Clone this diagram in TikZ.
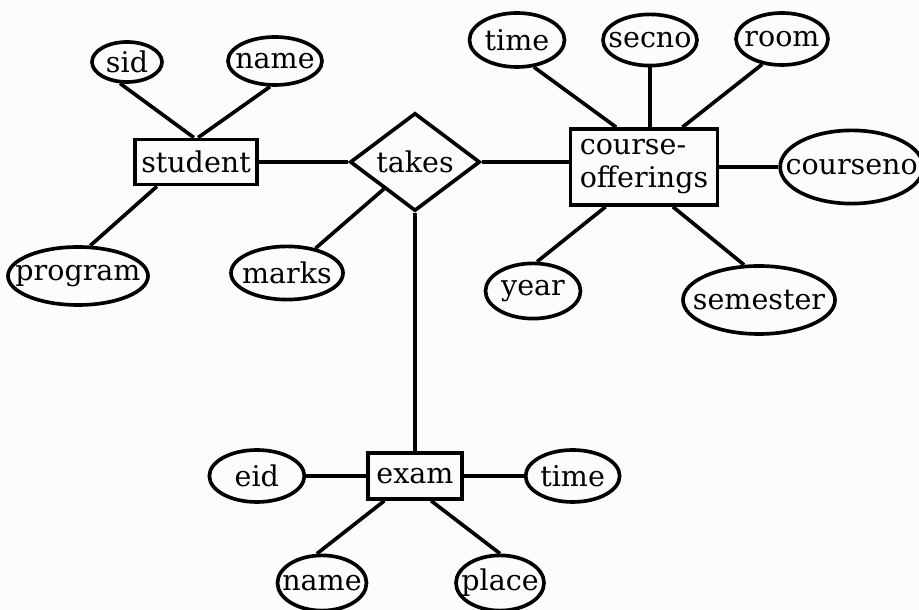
\documentclass[tikz,border=0pt]{standalone}
\usepackage{fontspec}
\setmainfont{DejaVu Serif}
\usetikzlibrary{positioning, shapes.geometric}
\definecolor{paper}{HTML}{FDFCFA}

\begin{document}
\begin{tikzpicture}[
    line width=2.6pt,
    every node/.style={font=\fontsize{20.3}{23.5}\selectfont},
    entitybox/.style={draw, rectangle, inner sep=0pt, minimum height=1.13cm},
    attrnode/.style={draw, ellipse, inner sep=-3cm, minimum height=1.3cm},
    relnode/.style={draw, diamond, inner sep=-1cm, minimum width=3.25cm,
      minimum height=2.45cm}
  ]
  \fill[paper] (0,0) rectangle (22.975,15.25);
  \useasboundingbox (0,0) rectangle (22.975,15.25);

  % entities and the relationship
  \node[entitybox, minimum width=3.05cm] (student) at (4.9,11.2) {student};
  \node[relnode] (takes) at (10.375,11.2) {takes};
  \node[entitybox, minimum width=3.675cm, minimum height=1.9cm, align=left]
    (offering) at (16.1,11.075) {course-\\offerings};
  \node[entitybox, minimum width=2.35cm, minimum height=1.15cm]
    (exam) at (10.375,3.35) {exam};

  % attributes of student and takes
  \node[attrnode, minimum width=1.75cm, minimum height=1.0cm]
    (sid) at (3.175,13.7) {sid};
  \node[attrnode, minimum width=2.35cm, minimum height=1.2cm]
    (name) at (6.875,13.725) {name};
  \node[attrnode, minimum width=3.5cm, minimum height=1.45cm]
    (program) at (1.95,8.35) {program};
  \node[attrnode, minimum width=2.8cm, minimum height=1.33cm]
    (marks) at (7.175,8.425) {marks};

  % attributes of course-offerings
  \node[attrnode, minimum width=2.375cm, minimum height=1.35cm]
    (time) at (12.925,14.25) {time};
  \node[attrnode, minimum width=2.35cm, minimum height=1.28cm]
    (secno) at (16.25,14.25) {secno};
  \node[attrnode, minimum width=2.3cm]
    (room) at (19.55,14.275) {room};
  \node[attrnode, minimum width=3.575cm, minimum height=1.83cm,
    right=1.475cm of offering] (courseno) {courseno};
  \node[attrnode, minimum width=2.375cm, minimum height=1.38cm]
    (year) at (13.325,7.975) {year};
  \node[attrnode, minimum width=3.8cm, minimum height=1.7cm]
    (semester) at (18.975,7.75) {semester};

  % attributes of exam
  \node[attrnode, minimum width=2.375cm, left=1.5cm of exam] (eid) {eid};
  \node[attrnode, minimum width=2.35cm, right=1.5cm of exam] (examtime) {time};
  \node[attrnode, minimum width=2.225cm, minimum height=1.38cm]
    (examname) at (8.05,0.675) {name};
  \node[attrnode, minimum width=2.2cm, minimum height=1.38cm]
    (place) at (12.5,0.675) {place};

  \draw (sid.252) -- (student.95);
  \draw (name.259) -- (student.85);
  \draw (program.68) -- (student.212);
  \draw (student) -- (takes);
  \draw (marks) -- (takes);
  \draw (takes.east) -- (takes.east -| offering.west);
  \draw (takes) -- (exam);
  \draw (time.-58) -- (offering.125);
  \draw (secno) -- (secno |- offering.north);
  \draw (room.232) -- (offering.46);
  \draw (offering) -- (courseno);
  \draw (year.82) -- (offering.226);
  \draw (semester.113) -- (offering.-54);
  \draw (eid) -- (exam);
  \draw (exam) -- (examtime);
  \draw (examname.100) -- (exam.219);
  \draw (place.90) -- (exam.-57);
\end{tikzpicture}
\end{document}
